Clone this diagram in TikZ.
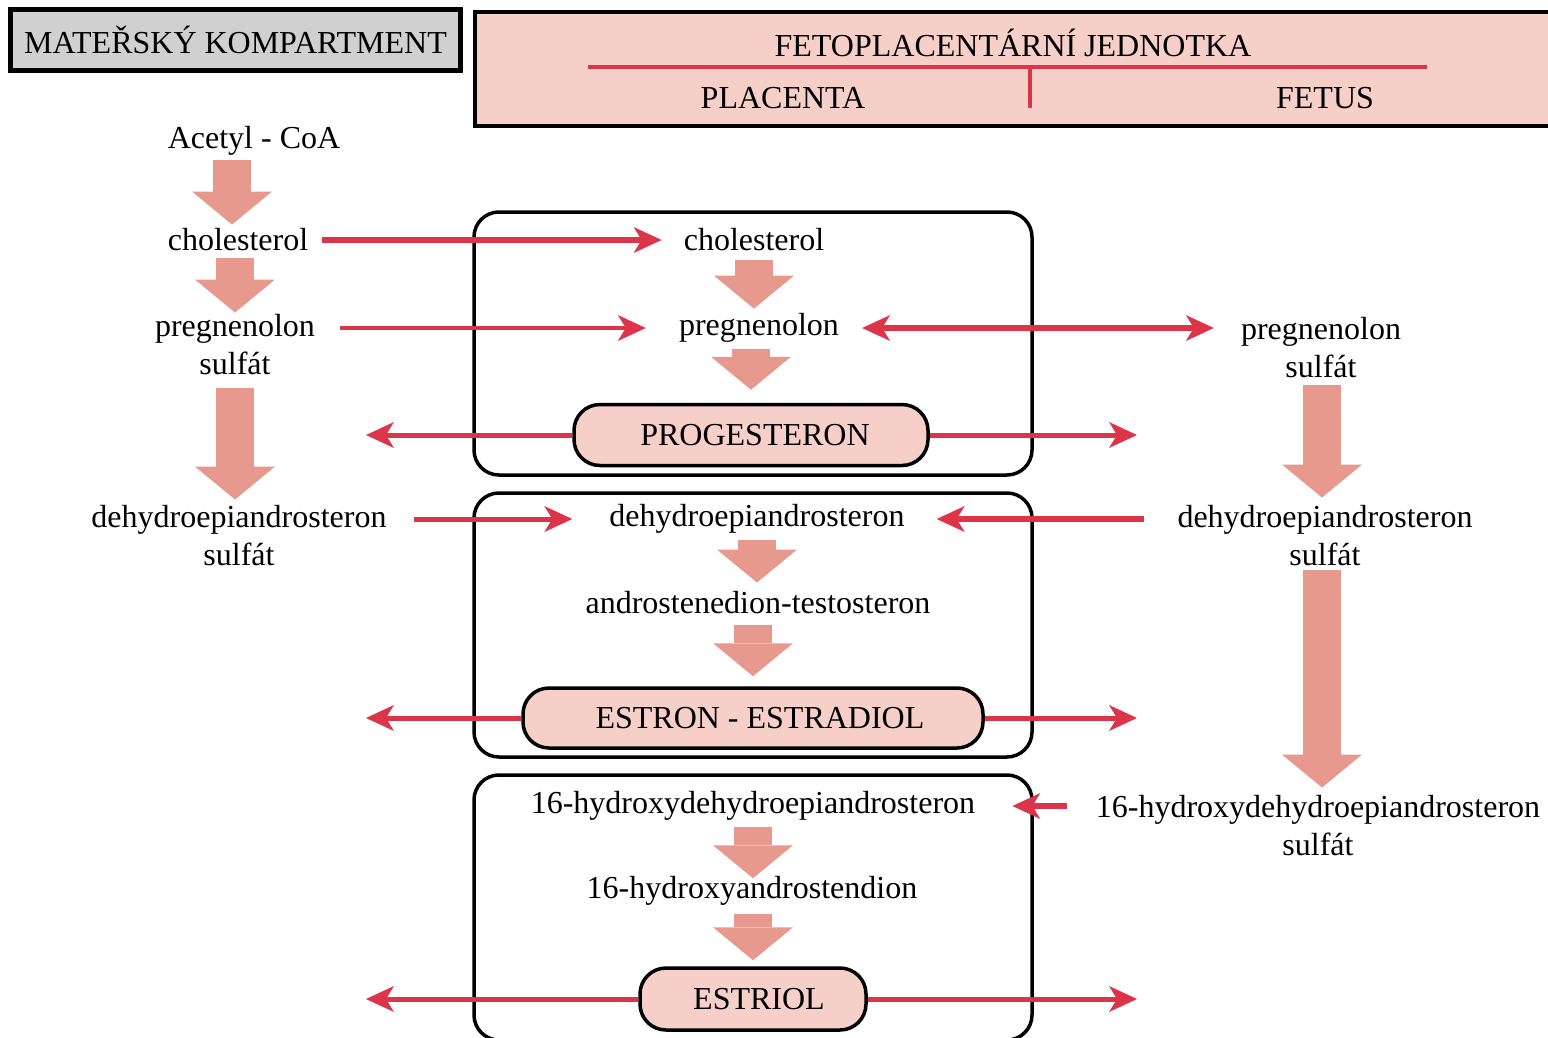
\documentclass[tikz,border=0pt]{standalone}
\usepackage{fontspec}
\setmainfont{Liberation Serif}
\usepackage{tikz}
\usetikzlibrary{arrows.meta,positioning}
\definecolor{FetoPink}{HTML}{F5CFC8}
\definecolor{FlowRed}{HTML}{DC3448}
\definecolor{FatPink}{HTML}{E8998D}
\definecolor{MatGray}{HTML}{D0D0D0}

\begin{document}
\begin{tikzpicture}[x=1pt, y=-1pt, >={Stealth[length=28pt,width=26pt,inset=8pt,line width=0pt]},
                      every node/.style={font=\fontsize{32}{38}\selectfont, align=center, inner sep=0pt},
                      head/.style={draw=black, line width=5pt},
                      hormone/.style={draw=black, fill=FetoPink, rounded corners=26pt, line width=3.5pt},
                      panel/.style={draw=black, rounded corners=25pt, line width=3.5pt},
                      fat/.style={draw=FatPink, line width=38pt, -{Triangle[width=80pt,length=33pt,line width=0pt]}},
                      flow/.style={draw=FlowRed, line width=6pt, ->}]
  \useasboundingbox (0,0) rectangle (1548,1037);
  \clip (0,0) rectangle (1548,1037);
  \node[head, fill=MatGray, minimum width=450pt, minimum height=61pt] (mat) at (235.5,40) {MATEŘSKÝ KOMPARTMENT};
  \node[head, fill=FetoPink, line width=4pt, minimum width=1080pt, minimum height=114pt] (feto) at (1015,69) {};
  \node (fetotitle) at (1013,43) {FETOPLACENTÁRNÍ JEDNOTKA};
  \node (placenta) at (783,98) {PLACENTA};
  \node (fetus) at (1325,98) {FETUS};
  \draw[FlowRed, line width=4pt] (588,67) -- (1427,67);
  \draw[FlowRed, line width=3.5pt] (1030,67) -- (1030,108);
  \draw[panel] (474,212) rectangle (1032,475);
  \draw[panel] (474,493) rectangle (1032,757);
  \draw[panel] (474,775) rectangle (1032,1040);
  \node (acetyl) at (254,141) {Acetyl - CoA};
  \node (cholM) at (238,240) {cholesterol};
  \node (pregM) at (235,345) {pregnenolon\\sulfát};
  \node (dheaM) at (239,536) {dehydroepiandrosteron\\sulfát};
  \node (cholP) at (754,240) {cholesterol};
  \node (pregP) at (759,328) {pregnenolon};
  \node[hormone, minimum width=354pt, minimum height=61pt] (prog) at (751,435) {\hspace{8pt}PROGESTERON};
  \node (dheaP) at (757,519) {dehydroepiandrosteron};
  \node (andro) at (758,603) {androstenedion-testosteron};
  \node[hormone, minimum width=460pt, minimum height=60pt] (estron) at (753,718) {\hspace{14pt}ESTRON - ESTRADIOL};
  \node (ohdheaP) at (753,806) {16-hydroxydehydroepiandrosteron};
  \node (ohandro) at (752,891) {16-hydroxyandrostendion};
  \node[hormone, minimum width=226pt, minimum height=62pt] (estriol) at (753,999) {\hspace{12pt}ESTRIOL};
  \node (pregF) at (1321,348) {pregnenolon\\sulfát};
  \node (dheaF) at (1325,536) {dehydroepiandrosteron\\sulfát};
  \node (ohdheaF) at (1318,826) {16-hydroxydehydroepiandrosteron\\sulfát};
  \coordinate (progL) at (366,435);
  \coordinate (progR) at (1137,435);
  \coordinate (estronL) at (366,718);
  \coordinate (estronR) at (1137,718);
  \coordinate (estriolL) at (366,999);
  \coordinate (estriolR) at (1137,999);
  \draw[fat, shorten <=4.6pt, shorten >=4pt] (acetyl.south -| 232,0) -- (cholM.north -| 232,0);
  \draw[fat, shorten <=7pt, shorten >=2pt] (cholM.south -| pregM) -- (pregM);
  \draw[fat, shorten <=13pt, shorten >=6pt] (pregM) -- (dheaM.north -| pregM);
  \draw[fat, shorten <=9pt, shorten >=4.6pt] (cholP) -- (cholP.south |- pregP.north);
  \draw[fat, shorten <=6.6pt, shorten >=13pt] (pregP.south -| prog) -- (prog);
  \draw[fat, shorten <=6.6pt, shorten >=9pt] (dheaP) -- (dheaP.south |- andro.north);
  \draw[fat, shorten <=11pt, shorten >=10pt] (andro.south -| estron) -- (estron);
  \draw[fat, shorten <=6pt, shorten >=-2pt] (ohdheaP) -- (ohdheaP.south |- ohandro.north);
  \draw[fat, shorten <=8.6pt, shorten >=6pt] (ohandro.south -| estriol) -- (estriol);
  \draw[fat, shorten <=7pt, shorten >=8pt] (pregF.south -| 1322,0) -- (dheaF.north -| 1322,0);
  \draw[fat, shorten <=4pt, shorten >=8pt] (dheaF.south -| 1322,0) -- (ohdheaF.north -| 1322,0);
  \draw[flow, shorten <=14pt, shorten >=22pt] (cholM) -- (cholP);
  \draw[flow, line width=4pt, shorten <=25pt, shorten >=33pt] (pregM.east |- pregP) -- (pregP);
  \draw[flow, <->, line width=6.5pt, shorten <=23pt, shorten >=27pt] (pregP) -- (pregF.west |- pregP);
  \draw[flow, line width=5pt] (prog) -- (progL);
  \draw[flow, line width=5pt] (prog) -- (progR);
  \draw[flow, line width=5pt, shorten <=27pt, shorten >=37pt] (dheaM.east |- dheaP) -- (dheaP);
  \draw[flow, shorten <=33pt, shorten >=32pt] (dheaF.west |- dheaP) -- (dheaP);
  \draw[flow, line width=5pt] (estron) -- (estronL);
  \draw[flow, line width=5pt] (estron) -- (estronR);
  \draw[flow, shorten <=29pt, shorten >=37pt] (ohdheaF.west |- ohdheaP) -- (ohdheaP);
  \draw[flow, line width=5pt] (estriol) -- (estriolL);
  \draw[flow, line width=5pt] (estriol) -- (estriolR);
\end{tikzpicture}
\end{document}
